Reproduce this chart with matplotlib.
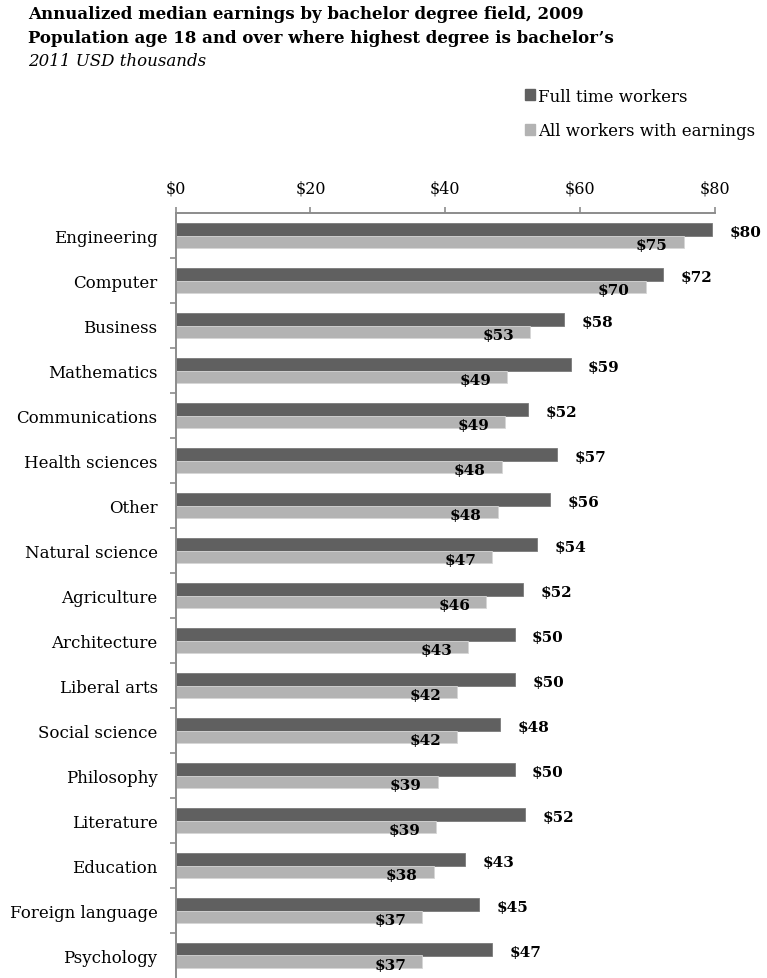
import numpy as np
import matplotlib
matplotlib.use("Agg")
import matplotlib.pyplot as plt
from matplotlib.patches import Patch

# data (2011 USD thousands)
fields = ["Engineering", "Computer", "Business", "Mathematics", "Communications",
          "Health sciences", "Other", "Natural science", "Agriculture", "Architecture",
          "Liberal arts", "Social science", "Philosophy", "Literature", "Education",
          "Foreign language", "Psychology"]
full_time = [79.6, 72.3, 57.7, 58.6, 52.3, 56.6, 55.6, 53.6, 51.6, 50.3,
             50.4, 48.2, 50.3, 51.9, 43.0, 45.0, 47.0]
all_workers = [75.4, 69.8, 52.6, 49.2, 48.9, 48.4, 47.8, 47.0, 46.1, 43.4,
               41.8, 41.8, 38.9, 38.7, 38.3, 36.6, 36.6]
x_ticks = [0, 20, 40, 60, 80]

dark = "#606060"
light = "#b3b3b3"
spine_col = "#8c8c8c"

plt.rcParams["font.family"] = ["DejaVu Serif"]

fig = plt.figure(figsize=(7.67, 9.79), dpi=100)
ax = fig.add_axes([175.7 / 767, 0.0, (714.7 - 175.7) / 767, 1 - 214 / 979])

y = np.arange(len(fields))
h = 0.285
ax.barh(y - h / 2, full_time, height=h, color=dark, edgecolor="#7a7a7a", linewidth=0.6)
ax.barh(y + h / 2, all_workers, height=h, color=light, edgecolor="#d6d6d6", linewidth=0.6)

# value labels: dark ones right of the bar end, light ones just inside it
for i in range(len(fields)):
    ax.annotate(f"${full_time[i]:.0f}", (full_time[i], y[i] - h / 2),
                xytext=(24, -1.8), textcoords="offset points",
                ha="center", va="center", fontsize=11, fontweight="bold")
    ax.annotate(f"${all_workers[i]:.0f}", (all_workers[i], y[i] + h / 2),
                xytext=(-23, -2.2), textcoords="offset points",
                ha="center", va="center", fontsize=11, fontweight="bold")

ax.set_xlim(0, 80)
ax.set_ylim(len(fields) - 0.5, -0.5)
ax.set_xticks(x_ticks)
ax.set_xticklabels([f"${t}" for t in x_ticks])
ax.xaxis.tick_top()
ax.set_yticks(y)
ax.set_yticklabels(fields)
ax.set_yticks(np.arange(0.5, len(fields) - 1, 1), minor=True)

ax.tick_params(axis="x", which="major", direction="out", length=4, width=1.2,
               color=spine_col, labelsize=11.5, pad=8)
ax.tick_params(axis="y", which="major", length=0, labelsize=12, pad=13)
ax.tick_params(axis="y", which="minor", direction="out", length=4, width=1.2,
               color=spine_col)

for s in ["right", "bottom"]:
    ax.spines[s].set_visible(False)
for s in ["top", "left"]:
    ax.spines[s].set_color(spine_col)
    ax.spines[s].set_linewidth(1.4)

# titles
fig.text(28 / 767, 1 - 19 / 979, "Annualized median earnings by bachelor degree field, 2009",
         fontsize=12, fontweight="bold", va="baseline", ha="left")
fig.text(28 / 767, 1 - 43 / 979, "Population age 18 and over where highest degree is bachelor\u2019s",
         fontsize=12, fontweight="bold", va="baseline", ha="left")
fig.text(28 / 767, 1 - 66.5 / 979, "2011 USD thousands",
         fontsize=12, style="italic", va="baseline", ha="left")

handles = [Patch(facecolor=dark, edgecolor=dark), Patch(facecolor=light, edgecolor=light)]
fig.legend(handles, ["Full time workers", "All workers with earnings"],
           loc="upper left", bbox_to_anchor=(524.5 / 767, 1 - 88.5 / 979),
           frameon=False, fontsize=12, handlelength=0.62, handleheight=0.62,
           handletextpad=0.2, borderpad=0, borderaxespad=0, labelspacing=1.05)

fig.savefig("out.png", dpi=100)
